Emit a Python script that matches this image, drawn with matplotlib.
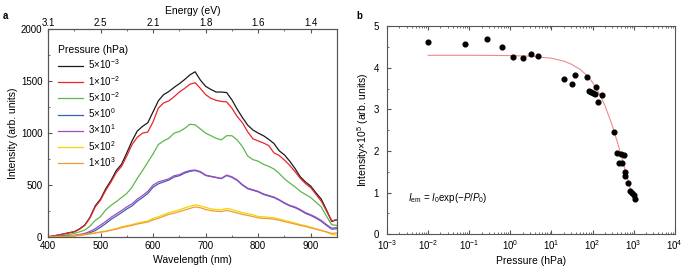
import numpy as np
import matplotlib.pyplot as plt
from matplotlib.ticker import MultipleLocator, FixedLocator, LogLocator, NullFormatter

plt.rcParams['font.family'] = ['Liberation Sans', 'DejaVu Sans']
plt.rcParams['mathtext.fontset'] = 'custom'
plt.rcParams['mathtext.rm'] = 'Liberation Sans'
plt.rcParams['mathtext.it'] = 'Liberation Sans:italic'
plt.rcParams['font.size'] = 7

# Panel a: PL spectra at different pressures
wavelength = np.arange(400, 951, 10)
spec_5e_3 = [3, 10, 20, 30, 42, 51, 78, 115, 190, 300, 365, 465, 545, 640, 700, 810, 925, 1020, 1065, 1100,
             1205, 1310, 1370, 1400, 1440, 1475, 1515, 1560, 1590, 1510, 1450, 1420, 1395, 1395, 1390, 1320,
             1230, 1150, 1077, 1030, 1000, 975, 940, 900, 830, 790, 730, 660, 580, 530, 490, 425, 365, 260,
             150, 168]
spec_1e_2 = [3, 10, 20, 30, 40, 50, 75, 112, 185, 290, 355, 450, 530, 620, 680, 780, 890, 960, 1000, 1010,
             1109, 1240, 1290, 1310, 1350, 1395, 1430, 1470, 1485, 1430, 1370, 1335, 1315, 1305, 1300, 1240,
             1160, 1100, 1013, 945, 925, 905, 880, 810, 785, 740, 690, 630, 565, 515, 475, 410, 345, 250,
             155, 168]
spec_5e_2 = [2, 5, 10, 18, 26, 35, 50, 67, 105, 160, 196, 262, 305, 340, 380, 420, 480, 565, 640, 720,
             800, 890, 925, 950, 1000, 1015, 1045, 1085, 1080, 1040, 1000, 975, 950, 935, 975, 975,
             935, 870, 780, 745, 730, 700, 680, 655, 612, 560, 520, 484, 440, 410, 380, 335, 290, 200,
             118, 112]
spec_5e0 = [1, 3, 5, 8, 11, 14, 20, 28, 42, 62, 95, 130, 170, 202, 235, 270, 300, 345, 380, 420,
            480, 512, 530, 548, 578, 590, 615, 632, 640, 625, 592, 582, 572, 562, 592, 575,
            545, 500, 465, 450, 435, 410, 395, 380, 355, 325, 300, 283, 258, 228, 208, 182, 152, 112,
            76, 80]
spec_3e1 = [1, 3, 6, 10, 13, 16, 25, 35, 55, 80, 115, 150, 190, 222, 255, 290, 320, 365, 400, 440,
            500, 530, 545, 560, 590, 600, 625, 640, 645, 630, 596, 585, 575, 565, 596, 580,
            550, 505, 470, 455, 440, 415, 400, 385, 360, 330, 305, 290, 265, 235, 215, 190, 160, 120,
            85, 92]
spec_5e2 = [0, 1, 3, 5, 8, 12, 18, 25, 32, 42, 50, 58, 70, 82, 98, 110, 120, 135, 145, 155,
            180, 195, 215, 235, 248, 262, 280, 295, 310, 300, 285, 272, 265, 262, 275, 265,
            250, 235, 225, 215, 198, 195, 190, 185, 175, 160, 148, 135, 120, 110, 95, 80, 65, 48,
            25, 20]
spec_1e3 = [0, 1, 2, 4, 7, 10, 15, 22, 30, 38, 46, 54, 65, 76, 90, 102, 112, 125, 135, 145,
            165, 180, 200, 218, 230, 244, 260, 275, 290, 282, 265, 255, 248, 245, 256, 245,
            232, 218, 208, 198, 184, 180, 177, 172, 162, 148, 137, 125, 112, 102, 88, 75, 62, 50,
            35, 40]

spectra = [spec_5e_3, spec_1e_2, spec_5e_2, spec_5e0, spec_3e1, spec_5e2, spec_1e3]
labels = [r'5×10$^{-3}$', r'1×10$^{-2}$', r'5×10$^{-2}$', r'5×10$^{0}$',
          r'3×10$^{1}$', r'5×10$^{2}$', r'1×10$^{3}$']
colors = ['#1a1a1a', '#e8262b', '#5cb84a', '#3d5fb5', '#a34bbf', '#f2d600', '#f29a3a']

energy_labels = ['3.1', '2.5', '2.1', '1.8', '1.6', '1.4']

# Panel b: integrated intensity vs pressure
pressure = [0.01, 0.079, 0.27, 0.62, 1.18, 2.0, 3.2, 4.8, 20, 31, 37, 72, 82, 94, 103, 113, 124, 138, 174,
            340, 390, 490, 585, 437, 515, 630, 605, 725, 830, 910, 1000, 1100]
intensity = [4.62, 4.57, 4.70, 4.51, 4.27, 4.24, 4.32, 4.28, 3.73, 3.61, 3.83, 3.79, 3.44, 3.42, 3.40, 3.38,
             3.54, 3.17, 3.34, 2.46, 1.94, 1.92, 1.90, 1.71, 1.70, 1.50, 1.40, 1.23, 1.03, 0.99, 0.94, 0.84]
fit_p = [0.01, 0.1, 1, 3, 10, 20, 30, 50, 70, 100, 150, 200, 300, 400, 500, 600, 700, 800, 1000]
fit_i = [4.30, 4.30, 4.293, 4.279, 4.23, 4.16, 4.09, 3.96, 3.83, 3.65, 3.36, 3.09, 2.62, 2.22, 1.89,
         1.60, 1.36, 1.15, 0.83]

fig = plt.figure(figsize=(6.85, 2.7), dpi=100)
spine_col = '#555555'

# ---- panel a
ax = fig.add_axes([0.070, 0.122, 0.422, 0.770])
for s, lab, c in zip(spectra, labels, colors):
    ax.plot(wavelength, s, color=c, lw=0.9, label=lab)
ax.set_xlim(400, 950)
ax.set_ylim(0, 2000)
ax.xaxis.set_major_locator(MultipleLocator(100))
ax.xaxis.set_minor_locator(MultipleLocator(50))
ax.yaxis.set_major_locator(MultipleLocator(500))
ax.yaxis.set_minor_locator(MultipleLocator(250))
ax.tick_params(which='both', direction='in', color=spine_col, labelsize=7)
ax.tick_params(axis='x', pad=3)
ax.tick_params(axis='y', pad=4)
ax.tick_params(which='major', length=3)
ax.tick_params(which='minor', length=1.5)
ax.set_xlabel('Wavelength (nm)', fontsize=7.5, labelpad=3)
ax.set_ylabel('Intensity (arb. units)', fontsize=7.5, labelpad=2)
for sp in ax.spines.values():
    sp.set_color(spine_col)
    sp.set_linewidth(0.8)
leg = ax.legend(title='Pressure (hPa)', loc='upper left', frameon=False, fontsize=7,
                title_fontsize=7.5, handlelength=2.6, handletextpad=0.5, labelspacing=0.25,
                borderaxespad=0.6, bbox_to_anchor=(0.0, 0.97))
leg._legend_box.align = 'left'

top = ax.twiny()
top.set_xlim(ax.get_xlim())
top.xaxis.set_major_locator(FixedLocator([400, 500, 600, 700, 800, 900]))
top.xaxis.set_minor_locator(MultipleLocator(50))
top.set_xticklabels(energy_labels)
top.tick_params(which='both', direction='in', color=spine_col, labelsize=7, pad=1)
top.tick_params(which='major', length=3)
top.tick_params(which='minor', length=1.5)
top.set_xlabel('Energy (eV)', fontsize=7.5, labelpad=3)
for sp in top.spines.values():
    sp.set_color(spine_col)
    sp.set_linewidth(0.8)

fig.text(0.004, 0.94, 'a', fontsize=7, fontweight='bold', va='center')

# ---- panel b
bx = fig.add_axes([0.565, 0.133, 0.420, 0.770])
bx.plot(fit_p, fit_i, color='#f08a8a', lw=0.8, zorder=1)
bx.plot(pressure, intensity, 'o', color='black', ms=3.4, zorder=2)
bx.set_xscale('log')
bx.set_xlim(1e-3, 1e4)
bx.set_ylim(0, 5)
bx.xaxis.set_major_locator(LogLocator(base=10, numticks=12))
bx.xaxis.set_minor_locator(LogLocator(base=10, subs=np.arange(2, 10), numticks=12))
bx.xaxis.set_minor_formatter(NullFormatter())
bx.yaxis.set_major_locator(MultipleLocator(1))
bx.yaxis.set_minor_locator(MultipleLocator(0.5))
bx.tick_params(which='both', direction='in', color=spine_col, labelsize=7, top=True)
bx.tick_params(axis='x', pad=3)
bx.tick_params(axis='y', pad=6)
bx.tick_params(which='major', length=3)
bx.tick_params(which='minor', length=1.5)
bx.set_xlabel('Pressure (hPa)', fontsize=7.5, labelpad=3)
bx.set_ylabel('Intensity×10$^{5}$ (arb. units)', fontsize=7.5, labelpad=2)
for sp in bx.spines.values():
    sp.set_color(spine_col)
    sp.set_linewidth(0.8)
bx.text(10**-2.5, 0.87, r'$I_{\mathrm{em}}$ = $I_0$exp$(-P/P_0)$', fontsize=7, va='center')

fig.text(0.52, 0.94, 'b', fontsize=7, fontweight='bold', va='center')

fig.savefig('out.png', dpi=100)
